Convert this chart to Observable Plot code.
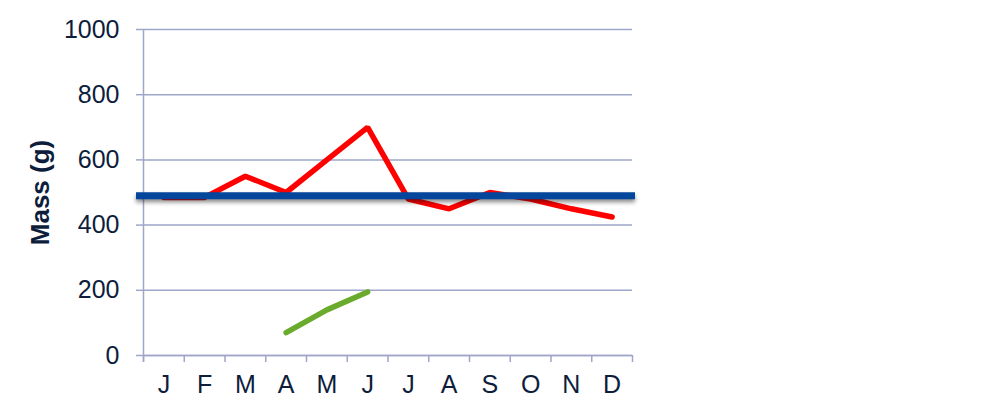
<!DOCTYPE html>
<html>
<head>
<meta charset="utf-8">
<script src="https://cdn.jsdelivr.net/npm/d3@7"></script>
<script src="https://cdn.jsdelivr.net/npm/@observablehq/plot@0.6"></script>
<style>
  html, body { margin: 0; padding: 0; background: #fff; }
  #chart svg { display: block; }
</style>
</head>
<body>
<div id="chart"></div>
<script>
// Monthly mass readings (g)
const months = ["J", "F", "M", "A", "M", "J", "J", "A", "S", "O", "N", "D"];
const redMass = [485, 485, 550, 500, 600, 700, 480, 450, 500, 480, 450, 425];
// Second series only covers April–June
const greenMonths = [3, 4, 5];
const greenMass = [70, 140, 195];
// Reference level
const targetMass = 490;
const yTicks = [0, 200, 400, 600, 800, 1000];

const red = redMass.map((v, i) => ({x: i + 0.5, y: v}));
const green = greenMass.map((v, i) => ({x: greenMonths[i] + 0.5, y: v}));

const ink = "#0d1d3b";
const gridColor = "#9ea6c9";
const targetColor = "#03469b";

const chart = Plot.plot({
  width: 1000,
  height: 407,
  marginLeft: 143,
  marginRight: 368,
  marginTop: 29,
  marginBottom: 52,
  style: {fontFamily: "'Liberation Sans', Arial, sans-serif", fontSize: "25px", color: ink, background: "#fff"},
  x: {type: "linear", domain: [0, 12]},
  y: {domain: [0, 1000]},
  marks: [
    Plot.gridY(yTicks, {stroke: gridColor, strokeOpacity: 1, strokeWidth: 1.5}),
    // axis lines
    Plot.ruleX([0], {stroke: gridColor, strokeWidth: 1.5, insetBottom: -7}),
    Plot.ruleY([0], {stroke: gridColor, strokeWidth: 1.5}),
    Plot.axisY(yTicks, {
      tickSize: 7, tickPadding: 17, stroke: gridColor, strokeWidth: 1.5,
      fontSize: 25, fill: ink, label: null, tickFormat: d => String(d)
    }),
    Plot.axisX(d3.range(0, 13), {
      tickSize: 7, stroke: gridColor, strokeWidth: 1.5, tickFormat: () => "", label: null
    }),
    Plot.axisX(d3.range(12).map(i => i + 0.5), {
      tickSize: 0, tickPadding: 20, fontSize: 25, fill: ink,
      tickFormat: d => months[Math.floor(d)], label: null
    }),
    Plot.text(["Mass (g)"], {
      frameAnchor: "left", dx: -103, dy: 0, rotate: -90, textAnchor: "middle",
      fontWeight: "bold", fontSize: 26, fill: ink
    }),
    Plot.line(red, {x: "x", y: "y", stroke: "#ff0000", strokeWidth: 5.5, strokeLinejoin: "miter", strokeLinecap: "round"}),
    Plot.line(green, {x: "x", y: "y", stroke: "#6aaa2c", strokeWidth: 5.5, strokeLinecap: "round"}),
    Plot.ruleY([targetMass], {
      stroke: targetColor, strokeWidth: 7, insetLeft: -7, insetRight: -3
    })
  ]
});

// soft drop shadow under the reference level
d3.select(chart).selectAll("g")
  .filter(function() { return this.getAttribute("stroke") === targetColor; })
  .style("filter", "drop-shadow(0px 3px 2px rgba(0,0,0,0.45))");

document.getElementById("chart").appendChild(chart);
</script>
</body>
</html>
